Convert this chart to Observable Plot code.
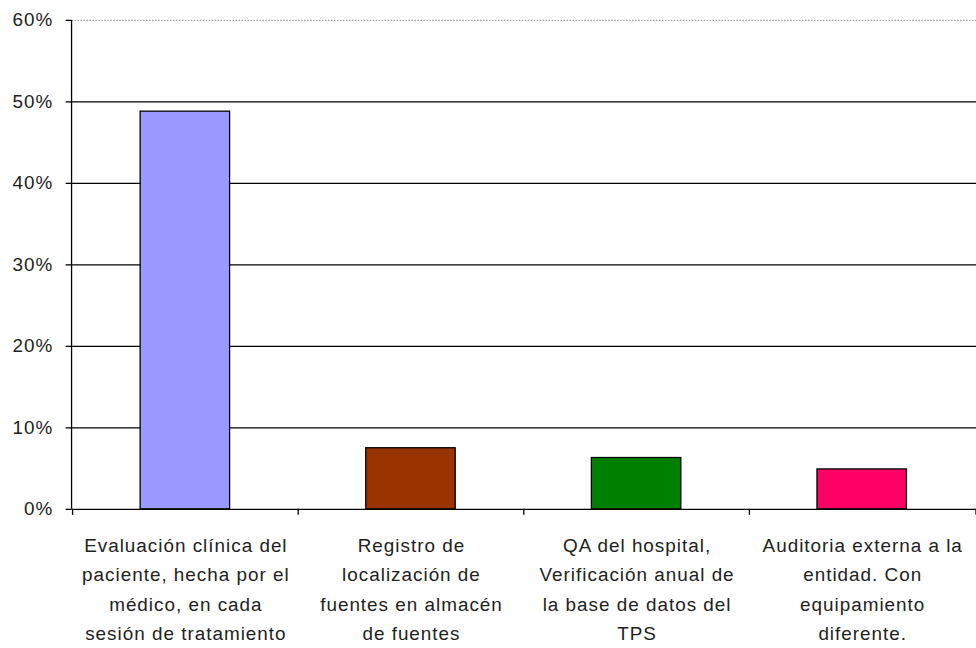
<!DOCTYPE html>
<html>
<head>
<meta charset="utf-8">
<script src="https://cdn.jsdelivr.net/npm/d3@7"></script>
<script src="https://cdn.jsdelivr.net/npm/@observablehq/plot@0.6"></script>
<style>
  html, body { margin: 0; padding: 0; background: #fff; overflow: hidden; }
  #chart svg { display: block; }
</style>
</head>
<body>
<div id="chart"></div>
<script>
// Category labels, broken into the same lines they are printed on
const categories = [
  "Evaluación clínica del\npaciente, hecha por el\nmédico, en cada\nsesión de tratamiento",
  "Registro de\nlocalización de\nfuentes en almacén\nde fuentes",
  "QA del hospital,\nVerificación anual de\nla base de datos del\nTPS",
  "Auditoria externa a la\nentidad. Con\nequipamiento\ndiferente."
];
const values = [0.488, 0.075, 0.063, 0.049];
const colors = ["#9999ff", "#993300", "#008000", "#ff0066"];
const yTicks = [0, 0.1, 0.2, 0.3, 0.4, 0.5, 0.6];
const gridLines = [0.1, 0.2, 0.3, 0.4, 0.5];
const topLine = [0.6];

const data = categories.map((category, i) => ({category, value: values[i]}));

// Category boundary ticks below the baseline, plus the vertical value axis line
function frameMarks(index, scales, vals, dims) {
  const g = d3.create("svg:g").attr("stroke", "#000").attr("stroke-width", 1.3).attr("fill", "none");
  const x = scales.x, y = scales.y;
  const y0 = y(0);
  const edges = categories.map(c => x(c)).concat([dims.width - dims.marginRight]);
  for (const px of edges) {
    g.append("line").attr("x1", px).attr("x2", px).attr("y1", y0).attr("y2", y0 + 6);
  }
  g.append("line")
    .attr("x1", dims.marginLeft).attr("x2", dims.marginLeft)
    .attr("y1", y(0.6)).attr("y2", y0);
  return g.node();
}

const chart = Plot.plot({
  width: 982,
  height: 648,
  marginLeft: 72,
  marginRight: 0,
  marginTop: 20,
  marginBottom: 136,
  style: {fontFamily: "'Liberation Sans', Arial, sans-serif", fontSize: "19px", color: "#222", letterSpacing: "1px", background: "#fff"},
  x: {type: "band", domain: categories, padding: 0, axis: null},
  y: {domain: [0, 0.6], axis: null},
  color: {domain: categories, range: colors},
  marks: [
    Plot.ruleY(topLine, {stroke: "#888", strokeDasharray: "1.5,1.5"}),
    Plot.ruleY(gridLines, {stroke: "#000", strokeWidth: 1.3}),
    Plot.barY(data, {
      x: "category", y: "value", fill: "category",
      stroke: "#000", strokeWidth: 1.3, insetLeft: 68, insetRight: 69
    }),
    Plot.ruleY([0], {stroke: "#000", strokeWidth: 1.3}),
    Plot.axisY({
      ticks: yTicks, tickFormat: d3.format(".0%"), tickSize: 6, tickPadding: 13,
      label: null, fontSize: 19, stroke: "#000", strokeWidth: 1.3, fill: "#222"
    }),
    Plot.text(data, {
      x: "category", y: 0, text: "category",
      lineAnchor: "top", dy: 22, lineHeight: 1.55,
      fontSize: 19, fill: "#222"
    }),
    frameMarks
  ]
});

document.getElementById("chart").appendChild(chart);
</script>
</body>
</html>
